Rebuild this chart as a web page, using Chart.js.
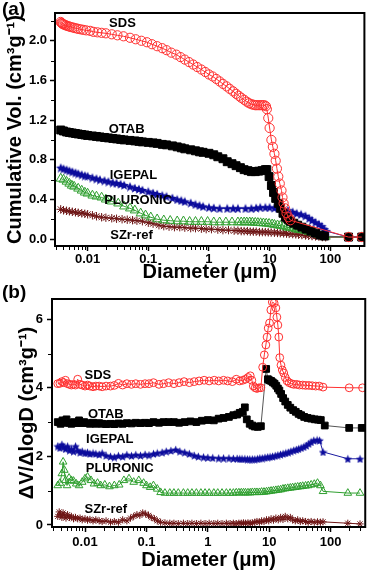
<!DOCTYPE html>
<html>
<head>
<meta charset="utf-8">
<script src="https://cdn.jsdelivr.net/npm/chart.js@4.4.1/dist/chart.umd.min.js"></script>
<style>
  html, body { margin: 0; padding: 0; background: #fff; }
  #wrap { position: relative; width: 371px; height: 572px; }
  canvas { position: absolute; left: 0; }
  #chartA { top: 0; }
  #chartB { top: 282px; }
</style>
</head>
<body>
<div id="wrap">
  <canvas id="chartA" width="371" height="282"></canvas>
  <canvas id="chartB" width="371" height="290"></canvas>
</div>
<script>
// ---- panel (a): cumulative pore volume ----
const aSdsD = [0.0036, 0.0037, 0.0038, 0.0039, 0.004, 0.0042, 0.0044, 0.0046, 0.0049, 0.0052, 0.0056, 0.006, 0.0065, 0.007, 0.0077, 0.0085, 0.0095, 0.011, 0.0125, 0.0145, 0.017, 0.02, 0.025, 0.031, 0.039, 0.05, 0.062, 0.077, 0.095, 0.115, 0.14, 0.17, 0.2, 0.24, 0.29, 0.34, 0.4, 0.47, 0.55, 0.64, 0.75, 0.87, 1.0, 1.15, 1.32, 1.5, 1.7, 1.95, 2.2, 2.5, 2.8, 3.1, 3.4, 3.8, 4.2, 4.6, 5.0, 5.4, 5.8, 6.2, 6.7, 7.2, 7.7, 8.2, 8.7, 9.0, 9.5, 10.0, 10.7, 11.3, 12.0, 12.6, 13.2, 13.9, 14.7, 15.7, 16.3, 17.0, 18.0, 19.0, 20.5, 22.0, 200, 330];
const aSdsV = [2.19, 2.18, 2.175, 2.17, 2.165, 2.16, 2.155, 2.15, 2.145, 2.14, 2.135, 2.13, 2.125, 2.12, 2.115, 2.11, 2.105, 2.1, 2.09, 2.085, 2.08, 2.075, 2.065, 2.055, 2.045, 2.03, 2.015, 2.0, 1.985, 1.965, 1.945, 1.925, 1.905, 1.88, 1.86, 1.835, 1.81, 1.785, 1.76, 1.735, 1.71, 1.685, 1.66, 1.64, 1.615, 1.59, 1.565, 1.54, 1.515, 1.49, 1.465, 1.445, 1.425, 1.405, 1.385, 1.37, 1.36, 1.355, 1.35, 1.35, 1.35, 1.35, 1.35, 1.35, 1.34, 1.31, 1.22, 1.12, 1.0, 0.93, 0.86, 0.79, 0.71, 0.63, 0.56, 0.49, 0.42, 0.36, 0.31, 0.26, 0.22, 0.19, 0.02, 0.02];

const aOtabD = [0.0036, 0.004, 0.0045, 0.005, 0.0056, 0.0063, 0.007, 0.008, 0.009, 0.01, 0.012, 0.014, 0.016, 0.019, 0.022, 0.026, 0.03, 0.035, 0.04, 0.05, 0.06, 0.07, 0.08, 0.1, 0.12, 0.14, 0.17, 0.2, 0.25, 0.3, 0.35, 0.4, 0.5, 0.6, 0.7, 0.8, 1.0, 1.2, 1.4, 1.7, 2.0, 2.4, 2.8, 3.3, 3.8, 4.4, 5.0, 5.8, 6.6, 7.5, 8.5, 9.0, 9.8, 10.7, 11.6, 12.6, 13.9, 15.2, 16.6, 18.2, 20, 22, 25, 29, 34, 40, 48, 57, 68, 80, 200, 330];
const aOtabV = [1.1, 1.09, 1.08, 1.075, 1.07, 1.065, 1.06, 1.055, 1.05, 1.045, 1.04, 1.035, 1.03, 1.025, 1.02, 1.015, 1.01, 1.005, 1.0, 0.995, 0.99, 0.985, 0.98, 0.975, 0.97, 0.965, 0.955, 0.95, 0.94, 0.93, 0.92, 0.91, 0.9, 0.89, 0.88, 0.875, 0.865, 0.85, 0.83, 0.81, 0.78, 0.76, 0.74, 0.72, 0.7, 0.69, 0.68, 0.68, 0.685, 0.69, 0.7, 0.7, 0.63, 0.54, 0.47, 0.41, 0.36, 0.31, 0.26, 0.22, 0.2, 0.18, 0.16, 0.14, 0.12, 0.1, 0.08, 0.06, 0.04, 0.03, 0.02, 0.02];

const aIgepalD = [0.0036, 0.004, 0.0045, 0.005, 0.0056, 0.0063, 0.007, 0.008, 0.009, 0.01, 0.012, 0.014, 0.016, 0.019, 0.022, 0.026, 0.03, 0.035, 0.04, 0.05, 0.06, 0.07, 0.08, 0.1, 0.12, 0.14, 0.17, 0.2, 0.25, 0.3, 0.35, 0.4, 0.5, 0.6, 0.7, 0.8, 1.0, 1.2, 1.5, 2.0, 2.5, 3.0, 4.0, 5.0, 6.0, 7.0, 8.5, 10, 12, 14, 17, 20, 24, 28, 33, 39, 45, 50, 57, 65, 72, 80, 86, 200, 330];
const aIgepalV = [0.72, 0.71, 0.7, 0.69, 0.68, 0.67, 0.66, 0.65, 0.64, 0.635, 0.62, 0.61, 0.6, 0.59, 0.58, 0.57, 0.565, 0.555, 0.545, 0.53, 0.515, 0.505, 0.495, 0.48, 0.465, 0.455, 0.44, 0.43, 0.415, 0.4, 0.39, 0.38, 0.365, 0.35, 0.34, 0.33, 0.32, 0.315, 0.31, 0.31, 0.31, 0.31, 0.31, 0.31, 0.315, 0.32, 0.32, 0.32, 0.315, 0.31, 0.3, 0.29, 0.275, 0.26, 0.25, 0.235, 0.21, 0.19, 0.17, 0.15, 0.13, 0.1, 0.08, 0.02, 0.02];

const aPluronicD = [0.0036, 0.004, 0.0045, 0.005, 0.0055, 0.006, 0.007, 0.008, 0.009, 0.01, 0.012, 0.014, 0.017, 0.02, 0.025, 0.032, 0.04, 0.05, 0.06, 0.075, 0.09, 0.11, 0.14, 0.18, 0.23, 0.3, 0.38, 0.48, 0.6, 0.75, 0.95, 1.2, 1.5, 1.9, 2.4, 3.0, 3.4, 3.8, 4.2, 4.7, 5.2, 5.8, 6.4, 7.1, 7.9, 8.8, 9.8, 11, 12, 13.5, 15, 17, 19, 21, 24, 27, 30, 34, 39, 44, 50, 57, 65, 74, 84, 200, 330];
const aPluronicV = [0.61, 0.6, 0.58, 0.56, 0.54, 0.53, 0.51, 0.49, 0.47, 0.46, 0.44, 0.43, 0.42, 0.4, 0.38, 0.36, 0.33, 0.31, 0.29, 0.26, 0.24, 0.22, 0.2, 0.19, 0.185, 0.18, 0.18, 0.175, 0.175, 0.175, 0.175, 0.17, 0.17, 0.17, 0.17, 0.17, 0.17, 0.17, 0.17, 0.17, 0.168, 0.166, 0.164, 0.162, 0.16, 0.158, 0.155, 0.15, 0.145, 0.14, 0.135, 0.13, 0.12, 0.115, 0.11, 0.1, 0.095, 0.09, 0.085, 0.075, 0.065, 0.055, 0.045, 0.035, 0.025, 0.02, 0.02];

const aSzrD = [0.0036, 0.004, 0.0045, 0.005, 0.0056, 0.0063, 0.007, 0.008, 0.009, 0.01, 0.012, 0.014, 0.017, 0.02, 0.025, 0.03, 0.037, 0.045, 0.055, 0.065, 0.08, 0.1, 0.12, 0.15, 0.18, 0.22, 0.27, 0.33, 0.4, 0.5, 0.6, 0.75, 0.9, 1.1, 1.4, 1.7, 2.1, 2.6, 3.0, 3.4, 3.8, 4.3, 4.8, 5.4, 6.0, 6.8, 7.6, 8.5, 9.5, 10.6, 12, 13.5, 15, 17, 19, 21, 24, 27, 30, 34, 39, 44, 50, 57, 65, 74, 84, 200, 330];
const aSzrV = [0.3, 0.29, 0.285, 0.28, 0.275, 0.27, 0.265, 0.26, 0.255, 0.25, 0.24, 0.23, 0.22, 0.215, 0.21, 0.205, 0.2, 0.195, 0.19, 0.185, 0.18, 0.165, 0.155, 0.14, 0.13, 0.125, 0.12, 0.12, 0.115, 0.11, 0.11, 0.105, 0.1, 0.1, 0.095, 0.09, 0.09, 0.085, 0.085, 0.08, 0.08, 0.08, 0.075, 0.075, 0.075, 0.07, 0.07, 0.07, 0.068, 0.066, 0.064, 0.062, 0.06, 0.058, 0.055, 0.052, 0.05, 0.047, 0.044, 0.04, 0.037, 0.033, 0.03, 0.027, 0.024, 0.02, 0.018, 0.02, 0.02];

// ---- panel (b): dV/dlogD ----
const bSdsD = [0.0036, 0.0039, 0.0042, 0.0045, 0.0048, 0.0052, 0.0056, 0.006, 0.0065, 0.007, 0.0076, 0.0083, 0.009, 0.01, 0.011, 0.012, 0.0135, 0.015, 0.017, 0.019, 0.022, 0.026, 0.03, 0.035, 0.041, 0.048, 0.057, 0.067, 0.08, 0.095, 0.11, 0.13, 0.16, 0.19, 0.23, 0.28, 0.34, 0.41, 0.5, 0.6, 0.72, 0.87, 1.05, 1.27, 1.5, 1.8, 2.1, 2.5, 2.9, 3.3, 3.7, 4.1, 4.5, 4.9, 5.2, 5.5, 5.9, 6.3, 6.8, 7.3, 7.8, 8.3, 8.8, 9.2, 9.6, 10.1, 10.6, 11.2, 12.0, 12.8, 13.3, 13.8, 14.3, 14.8, 15.5, 16.3, 17.2, 18.2, 19.5, 21, 23, 25, 28, 31, 35, 39, 44, 50, 57, 65, 75, 200, 330];
const bSdsV = [4.12, 4.13, 4.18, 4.15, 4.22, 4.12, 4.1, 4.08, 4.1, 4.08, 4.25, 4.1, 4.08, 4.05, 4.08, 4.05, 4.03, 4.05, 4.05, 4.03, 4.05, 4.05, 4.07, 4.13, 4.08, 4.12, 4.1, 4.12, 4.1, 4.12, 4.12, 4.15, 4.1, 4.12, 4.15, 4.12, 4.15, 4.18, 4.15, 4.18, 4.2, 4.22, 4.2, 4.22, 4.2, 4.22, 4.2, 4.18, 4.25, 4.2, 4.22, 4.25, 4.3, 4.35, 4.22, 4.05, 4.0, 3.98, 4.0, 4.0, 4.6, 4.96, 5.25, 5.48, 5.74, 5.89, 6.27, 6.5, 6.47, 6.33, 6.06, 5.83, 5.48, 4.88, 4.66, 4.52, 4.43, 4.3, 4.2, 4.15, 4.12, 4.1, 4.1, 4.08, 4.08, 4.07, 4.07, 4.06, 4.05, 4.05, 4.02, 4.0, 4.0];

const bOtabD = [0.0036, 0.004, 0.0043, 0.0046, 0.005, 0.0055, 0.006, 0.0066, 0.0072, 0.008, 0.0088, 0.0097, 0.011, 0.012, 0.0135, 0.015, 0.017, 0.019, 0.022, 0.026, 0.03, 0.035, 0.041, 0.048, 0.057, 0.067, 0.08, 0.095, 0.11, 0.13, 0.16, 0.19, 0.23, 0.28, 0.34, 0.42, 0.52, 0.65, 0.8, 1.0, 1.25, 1.5, 1.8, 2.2, 2.6, 3.0, 3.3, 3.7, 4.0, 4.3, 4.8, 5.3, 5.8, 6.5, 7.3, 8.9, 9.5, 10.0, 10.7, 11.4, 12.2, 13.0, 13.8, 14.6, 15.6, 16.8, 18.2, 20, 22, 24.5, 27, 30, 33, 37, 42, 48, 55, 62, 69, 80, 200, 320];
const bOtabV = [3.0, 2.95, 3.05, 2.98, 3.08, 2.98, 2.95, 3.0, 2.97, 3.05, 2.97, 3.0, 2.97, 2.95, 2.98, 2.95, 2.97, 2.95, 2.94, 2.95, 2.94, 2.96, 2.95, 2.97, 2.96, 2.98, 2.97, 2.98, 2.97, 3.0, 2.98, 3.0, 3.0, 3.0, 2.98, 3.0, 3.02, 3.0, 3.04, 3.06, 3.05, 3.1, 3.12, 3.15, 3.2, 3.22, 3.27, 3.3, 3.43, 3.08, 2.95, 2.9, 2.87, 2.86, 2.88, 4.55, 4.25, 4.22, 4.2, 4.16, 4.12, 4.06, 3.98, 3.92, 3.82, 3.7, 3.6, 3.5, 3.42, 3.35, 3.3, 3.24, 3.2, 3.15, 3.12, 3.1, 3.08, 3.07, 3.06, 2.9, 2.83, 2.83];

const bIgepalD = [0.0036, 0.0039, 0.0042, 0.0045, 0.0048, 0.0052, 0.0056, 0.006, 0.0065, 0.007, 0.0076, 0.0083, 0.009, 0.01, 0.011, 0.012, 0.0135, 0.015, 0.017, 0.019, 0.022, 0.026, 0.03, 0.035, 0.041, 0.048, 0.057, 0.067, 0.08, 0.095, 0.11, 0.13, 0.15, 0.18, 0.21, 0.25, 0.3, 0.35, 0.42, 0.5, 0.6, 0.7, 0.85, 1.0, 1.2, 1.5, 1.8, 2.2, 2.6, 3.0, 3.3, 3.6, 4.0, 4.4, 4.8, 5.3, 5.8, 6.4, 7.0, 7.7, 8.5, 9.4, 10.3, 11.3, 12.5, 13.8, 15.2, 16.8, 18.5, 20.4, 22.5, 25, 27.5, 30, 33, 36.5, 40, 44, 48, 53, 60, 66, 75, 190, 300];
const bIgepalV = [2.3, 2.25, 2.35, 2.28, 2.22, 2.3, 2.18, 2.22, 2.15, 2.3, 2.18, 2.12, 2.15, 2.1, 2.12, 2.08, 2.1, 2.08, 2.06, 2.1, 2.03, 2.0, 1.98, 2.02, 2.0, 2.05, 2.02, 2.05, 2.03, 2.06, 2.04, 2.08, 2.1, 2.12, 2.15, 2.17, 2.2, 2.15, 2.12, 2.08, 2.03, 2.0, 1.98, 1.97, 1.96, 1.95, 1.95, 1.95, 1.94, 1.94, 1.93, 1.93, 1.93, 1.92, 1.92, 1.92, 1.92, 1.93, 1.95, 1.95, 1.97, 1.98, 1.99, 2.0, 2.02, 2.04, 2.06, 2.08, 2.1, 2.12, 2.15, 2.18, 2.2, 2.22, 2.25, 2.28, 2.32, 2.37, 2.42, 2.47, 2.48, 2.47, 2.13, 1.93, 1.93];

const bPluronicD = [0.0036, 0.0039, 0.0042, 0.0044, 0.0046, 0.0048, 0.0051, 0.0055, 0.006, 0.0065, 0.0072, 0.008, 0.009, 0.01, 0.011, 0.0125, 0.014, 0.016, 0.018, 0.021, 0.025, 0.03, 0.036, 0.043, 0.052, 0.062, 0.075, 0.09, 0.1, 0.115, 0.13, 0.15, 0.17, 0.2, 0.24, 0.28, 0.33, 0.4, 0.47, 0.55, 0.65, 0.77, 0.9, 1.05, 1.25, 1.45, 1.7, 2.0, 2.3, 2.6, 2.9, 3.2, 3.5, 3.8, 4.1, 4.5, 4.9, 5.3, 5.8, 6.3, 6.9, 7.5, 8.2, 9.0, 9.8, 10.7, 11.7, 12.8, 14, 15.3, 16.7, 18.2, 20, 22, 24, 26.5, 29, 32, 35, 39, 43, 48, 54, 61, 68, 75, 190, 300];
const bPluronicV = [1.15, 1.22, 1.5, 1.84, 1.6, 1.3, 1.15, 1.37, 1.3, 1.28, 1.2, 1.15, 1.25, 1.35, 1.4, 1.3, 1.2, 1.22, 1.15, 1.17, 1.12, 1.15, 1.17, 1.3, 1.35, 1.25, 1.3, 1.22, 1.15, 1.1, 1.15, 1.05, 0.95, 0.93, 0.93, 0.93, 0.93, 0.93, 0.93, 0.93, 0.93, 0.93, 0.93, 0.93, 0.93, 0.93, 0.93, 0.93, 0.93, 0.93, 0.94, 0.94, 0.94, 0.94, 0.94, 0.94, 0.94, 0.95, 0.95, 0.95, 0.95, 0.96, 0.96, 0.97, 0.98, 0.99, 1.0, 1.01, 1.02, 1.03, 1.05, 1.06, 1.07, 1.08, 1.09, 1.1, 1.11, 1.12, 1.13, 1.14, 1.15, 1.17, 1.19, 1.22, 1.15, 0.98, 0.93, 0.93];

const bSzrD = [0.0036, 0.0038, 0.004, 0.0042, 0.0044, 0.0046, 0.0049, 0.0052, 0.0056, 0.006, 0.0065, 0.007, 0.0076, 0.0083, 0.009, 0.01, 0.011, 0.012, 0.0135, 0.015, 0.017, 0.019, 0.022, 0.026, 0.03, 0.035, 0.041, 0.048, 0.055, 0.062, 0.07, 0.078, 0.087, 0.097, 0.108, 0.12, 0.135, 0.15, 0.17, 0.2, 0.24, 0.28, 0.33, 0.4, 0.47, 0.55, 0.65, 0.77, 0.9, 1.05, 1.25, 1.45, 1.7, 2.0, 2.3, 2.6, 2.9, 3.2, 3.5, 3.8, 4.1, 4.5, 4.9, 5.3, 5.8, 6.3, 6.9, 7.5, 8.2, 9.0, 9.8, 10.7, 11.7, 12.8, 14, 15.3, 16.7, 18.2, 20, 22, 24, 26.5, 29, 32, 35, 39, 43, 48, 54, 61, 68, 75, 190, 300];
const bSzrV = [0.25, 0.38, 0.3, 0.22, 0.35, 0.28, 0.2, 0.3, 0.22, 0.25, 0.18, 0.22, 0.18, 0.2, 0.15, 0.18, 0.14, 0.16, 0.12, 0.15, 0.12, 0.1, 0.12, 0.08, 0.1, 0.08, 0.15, 0.12, 0.2, 0.25, 0.3, 0.28, 0.35, 0.32, 0.28, 0.22, 0.18, 0.12, 0.08, 0.06, 0.05, 0.05, 0.04, 0.05, 0.04, 0.05, 0.04, 0.05, 0.04, 0.05, 0.04, 0.05, 0.04, 0.05, 0.04, 0.05, 0.04, 0.05, 0.05, 0.06, 0.05, 0.06, 0.05, 0.06, 0.08, 0.1, 0.08, 0.12, 0.1, 0.15, 0.12, 0.18, 0.14, 0.2, 0.15, 0.22, 0.16, 0.25, 0.18, 0.22, 0.15, 0.12, 0.15, 0.1, 0.12, 0.1, 0.08, 0.1, 0.08, 0.09, 0.08, 0.09, 0.05, 0.03];

// ---- axis ticks ----
const xTickLabels = [0.01, 0.1, 1, 10, 100];
const yMajorA = [0, 0.4, 0.8, 1.2, 1.6, 2.0];
const yMinorA = [0.2, 0.6, 1.0, 1.4, 1.8, 2.2];
const yMajorB = [0, 2, 4, 6];
const yMinorB = [1, 3, 5];

const seriesNames = ['SDS', 'OTAB', 'IGEPAL', 'PLURONIC', 'SZr-ref'];

const FONT = "'Liberation Sans', Arial, Helvetica, sans-serif";
const X_MIN = 0.0029, X_MAX = 365;

function near(list, v) {
  return list.some(t => Math.abs(t - v) < 1e-9 * Math.max(1, Math.abs(t)));
}

function logMinorTicks() {
  const out = [];
  for (let e = -3; e <= 2; e++) {
    for (let m = 1; m <= 9; m++) {
      const v = +(m * Math.pow(10, e)).toPrecision(6);
      if (v >= X_MIN && v <= X_MAX && !near(xTickLabels, v)) out.push(v);
    }
  }
  return out;
}
const xMinor = logMinorTicks();

function starImage(size, color) {
  const c = document.createElement('canvas');
  c.width = c.height = size;
  const g = c.getContext('2d');
  const r = size / 2, ri = r * 0.45;
  g.beginPath();
  for (let i = 0; i < 10; i++) {
    const rad = i % 2 ? ri : r;
    const ang = -Math.PI / 2 + i * Math.PI / 5;
    g.lineTo(r + rad * Math.cos(ang), r + 0.6 + rad * Math.sin(ang));
  }
  g.closePath();
  g.fillStyle = color;
  g.fill();
  return c;
}

function pts(d, v) {
  return d.map((x, i) => ({ x: x, y: v[i] }));
}

// frame, minor ticks, in-plot labels and panel letter
const decoPlugin = {
  id: 'deco',
  afterDraw(chart, args, opts) {
    const { ctx, chartArea: a, scales: { x, y } } = chart;
    ctx.save();
    ctx.strokeStyle = '#000';
    ctx.lineWidth = 2;
    ctx.strokeRect(a.left, a.top, a.right - a.left, a.bottom - a.top);

    ctx.lineWidth = 1;
    ctx.beginPath();
    xMinor.forEach(v => {
      const px = Math.round(x.getPixelForValue(v)) + 0.5;
      ctx.moveTo(px, a.bottom + 1);
      ctx.lineTo(px, a.bottom + 4);
    });
    opts.yMinor.forEach(v => {
      const py = Math.round(y.getPixelForValue(v)) + 0.5;
      ctx.moveTo(a.left - 1, py);
      ctx.lineTo(a.left - 4, py);
    });
    ctx.stroke();

    ctx.fillStyle = '#000';
    ctx.font = 'bold 13px ' + FONT;
    ctx.textAlign = 'center';
    ctx.textBaseline = 'middle';
    opts.labels.forEach(l => {
      ctx.fillText(l.text, x.getPixelForValue(l.d), y.getPixelForValue(l.v));
    });

    ctx.font = 'bold 19px ' + FONT;
    ctx.textAlign = 'left';
    ctx.textBaseline = 'alphabetic';
    ctx.fillText(opts.letter, 2, opts.letterY);
    ctx.restore();
  }
};

function styles(big) {
  const k = big ? 1 : 0.85;
  return [
    { borderColor: '#ff3030', pointStyle: 'circle', pointRadius: 4.6 * k, pointBackgroundColor: 'rgba(0,0,0,0)', pointBorderColor: '#ff3030' },
    { borderColor: '#555', pointStyle: 'rect', pointRadius: 5.6 * k, pointBackgroundColor: '#000', pointBorderColor: '#000' },
    { borderColor: '#1a1aa0', pointStyle: starImage(big ? 10 : 9, '#0c0c9c'), pointRadius: 4 },
    { borderColor: '#2f9f2f', pointStyle: 'triangle', pointRadius: 5.2 * k, pointBackgroundColor: 'rgba(0,0,0,0)', pointBorderColor: '#2f9f2f' },
    { borderColor: '#6e1616', pointStyle: 'star', pointRadius: 4.2 * k, pointBackgroundColor: '#6e1616', pointBorderColor: '#6e1616' }
  ];
}

function makeChart(id, cfg) {
  const st = styles(cfg.big);
  const datasets = cfg.series.map((s, i) => Object.assign({
    label: seriesNames[i],
    data: pts(s[0], s[1]),
    showLine: true,
    borderWidth: 1,
    pointBorderWidth: 1
  }, st[i]));

  return new Chart(document.getElementById(id), {
    type: 'scatter',
    data: { datasets },
    options: {
      responsive: false,
      animation: false,
      devicePixelRatio: 1,
      layout: { padding: cfg.padding },
      plugins: {
        legend: { display: false },
        tooltip: { enabled: false },
        deco: { letter: cfg.letter, letterY: cfg.letterY, labels: cfg.labels, yMinor: cfg.yMinor }
      },
      scales: {
        x: {
          type: 'logarithmic',
          min: X_MIN,
          max: X_MAX,
          afterBuildTicks: s => { s.ticks = xTickLabels.map(v => ({ value: v })); },
          afterFit: s => { s.height = cfg.xHeight; },
          ticks: {
            autoSkip: false,
            maxRotation: 0,
            padding: cfg.xPad,
            color: '#000',
            font: { family: FONT, weight: 'bold', size: 13 },
            callback: v => String(+Number(v).toPrecision(3))
          },
          grid: { drawOnChartArea: false, tickLength: 5, tickWidth: 1.5, tickColor: '#000' },
          border: { display: true, color: '#000', width: 2 },
          title: {
            display: true,
            text: 'Diameter (μm)',
            color: '#000',
            font: { family: FONT, weight: 'bold', size: 20, lineHeight: 1 },
            padding: { top: 0, bottom: cfg.xTitlePad }
          }
        },
        y: {
          min: cfg.yMin,
          max: cfg.yMax,
          afterBuildTicks: s => { s.ticks = cfg.yMajor.map(v => ({ value: v })); },
          afterFit: s => { s.width = cfg.yWidth; },
          ticks: {
            padding: cfg.yPad,
            color: '#000',
            font: { family: FONT, weight: 'bold', size: 13 },
            callback: v => cfg.yFmt(v)
          },
          grid: { drawOnChartArea: false, tickLength: 5, tickWidth: 1.5, tickColor: '#000' },
          border: { display: true, color: '#000', width: 2 },
          title: {
            display: true,
            text: cfg.yTitle,
            color: '#000',
            font: { family: FONT, weight: 'bold', size: 20, lineHeight: 1 },
            padding: { top: cfg.yTitlePad, bottom: 0 }
          }
        }
      }
    },
    plugins: [decoPlugin]
  });
}

makeChart('chartA', {
  big: true,
  letter: '(a)', letterY: 15,
  padding: { top: 13, right: 3, left: 0, bottom: 0 },
  xHeight: 36, xPad: 1, xTitlePad: 0,
  yWidth: 55, yPad: 3, yTitlePad: 5,
  yMin: -0.07, yMax: 2.28,
  yMajor: yMajorA, yMinor: yMinorA,
  yFmt: v => Number(v).toFixed(1),
  yTitle: 'Cumulative Vol. (cm³g⁻¹)',
  series: [[aSdsD, aSdsV], [aOtabD, aOtabV], [aIgepalD, aIgepalV], [aPluronicD, aPluronicV], [aSzrD, aSzrV]],
  labels: [
    { text: 'SDS', d: 0.0375, v: 2.17 },
    { text: 'OTAB', d: 0.044, v: 1.11 },
    { text: 'IGEPAL', d: 0.057, v: 0.645 },
    { text: 'PLURONIC', d: 0.068, v: 0.39 },
    { text: 'SZr-ref', d: 0.053, v: 0.04 }
  ]
});

makeChart('chartB', {
  big: false,
  letter: '(b)', letterY: 16,
  padding: { top: 17, right: 4, left: 0, bottom: 0 },
  xHeight: 45, xPad: 3, xTitlePad: 2,
  yWidth: 52, yPad: 4, yTitlePad: 17,
  yMin: -0.06, yMax: 6.59,
  yMajor: yMajorB, yMinor: yMinorB,
  yFmt: v => String(v),
  yTitle: 'ΔV/ΔlogD (cm³g⁻¹)',
  series: [[bSdsD, bSdsV], [bOtabD, bOtabV], [bIgepalD, bIgepalV], [bPluronicD, bPluronicV], [bSzrD, bSzrV]],
  labels: [
    { text: 'SDS', d: 0.0162, v: 4.37 },
    { text: 'OTAB', d: 0.0218, v: 3.21 },
    { text: 'IGEPAL', d: 0.0253, v: 2.48 },
    { text: 'PLURONIC', d: 0.0367, v: 1.66 },
    { text: 'SZr-ref', d: 0.0218, v: 0.44 }
  ]
});
</script>
</body>
</html>
